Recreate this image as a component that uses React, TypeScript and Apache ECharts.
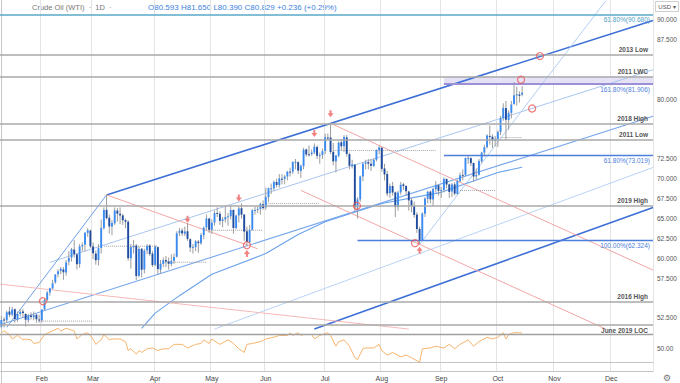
import React, { useEffect, useRef } from 'react';
import * as echarts from 'echarts';

// ---------- calendar ----------
const FIRST_DAY = [2021, 0, 8];
const LAST_DAY = [2021, 11, 22];
const HOLIDAYS = ['2021-01-18', '2021-02-15', '2021-04-02', '2021-05-31', '2021-07-05', '2021-09-06', '2021-11-25'];
const MONTH_NAMES = ['Jan', 'Feb', 'Mar', 'Apr', 'May', 'Jun', 'Jul', 'Aug', 'Sep', 'Oct', 'Nov', 'Dec'];

// ---------- daily bars [open, high, low, close] ----------
const barsJan = [
  [51.4, 52.75, 51.2, 52.24], [52.3, 52.6, 51.3, 52.25], [52.2, 53.4, 51.9, 53.21], [53.3, 53.9, 52.6, 52.91],
  [52.9, 53.9, 52.7, 53.57], [53.6, 53.7, 51.9, 52.36], [52.3, 53.3, 52.0, 52.98], [53.0, 53.6, 52.7, 53.24],
  [53.3, 53.6, 52.6, 53.13], [53.0, 53.1, 51.4, 52.27], [52.2, 53.0, 51.9, 52.77], [52.8, 53.2, 52.3, 52.61],
  [52.6, 53.3, 52.2, 52.85], [52.9, 53.0, 51.9, 52.34], [52.3, 52.9, 51.9, 52.2],
];
const barsFeb = [
  [52.2, 53.6, 51.9, 53.55], [53.6, 54.9, 53.4, 54.76], [54.8, 55.9, 54.6, 55.69], [55.7, 56.3, 55.3, 56.23],
  [56.2, 57.3, 56.1, 56.85], [57.0, 58.0, 56.8, 57.97], [58.0, 58.6, 57.6, 58.36], [58.4, 58.9, 58.0, 58.68],
  [58.6, 58.9, 57.3, 58.24], [58.2, 59.8, 57.8, 59.47], [59.6, 60.9, 59.1, 60.05], [60.1, 61.3, 59.6, 61.14],
  [61.1, 62.3, 60.1, 60.52], [60.5, 60.6, 58.6, 59.24], [59.3, 61.8, 58.8, 61.49], [61.5, 62.0, 60.9, 61.67],
  [61.7, 63.3, 60.9, 63.22], [63.2, 63.8, 62.7, 63.53], [63.5, 63.6, 61.3, 61.5],
];
const barsMar = [
  [61.5, 62.0, 59.9, 60.64], [60.6, 61.0, 59.2, 59.75], [59.8, 61.8, 59.1, 61.28], [61.3, 64.9, 60.6, 63.83],
  [63.8, 66.4, 63.6, 66.09], [66.1, 67.98, 64.9, 65.05], [65.1, 65.5, 63.1, 64.01], [64.0, 64.8, 62.9, 64.44],
  [64.4, 66.4, 64.2, 66.02], [66.0, 66.3, 64.6, 65.61], [65.6, 66.4, 64.3, 65.39], [65.4, 65.6, 64.2, 64.8],
  [64.8, 65.0, 63.8, 64.6], [64.6, 64.8, 59.7, 60.0], [60.0, 61.8, 58.7, 61.42], [61.4, 62.3, 60.6, 61.55],
  [61.6, 61.8, 57.25, 57.76], [57.8, 61.5, 57.6, 61.18], [61.2, 61.3, 57.6, 58.56], [58.6, 61.2, 58.1, 60.97],
  [61.0, 61.8, 60.5, 61.56], [61.6, 61.8, 60.3, 60.55], [60.6, 60.9, 58.9, 59.16],
];
const barsApr = [
  [59.2, 61.7, 59.0, 61.45], [61.4, 61.5, 58.0, 58.65], [58.6, 59.8, 58.1, 59.33], [59.3, 60.1, 58.9, 59.77],
  [59.8, 60.3, 58.9, 59.6], [59.6, 60.1, 58.6, 59.32], [59.3, 60.5, 59.0, 59.7], [59.7, 60.6, 59.3, 60.18],
  [60.2, 63.4, 60.1, 63.15], [63.2, 63.8, 62.8, 63.46], [63.5, 63.8, 62.8, 63.13], [63.1, 64.0, 62.8, 63.38],
  [63.4, 64.4, 62.2, 62.44], [62.4, 62.5, 60.8, 61.35], [61.4, 61.8, 60.6, 61.43], [61.4, 62.3, 60.9, 62.14],
  [62.1, 62.3, 60.7, 61.91], [61.9, 63.2, 61.7, 62.94], [62.9, 64.0, 62.4, 63.86], [63.9, 65.5, 63.5, 65.01],
  [65.0, 65.1, 63.2, 63.58],
];
const barsMay = [
  [63.6, 64.9, 63.1, 64.49], [64.5, 66.0, 64.1, 65.69], [65.7, 66.4, 65.2, 65.63], [65.6, 65.9, 64.2, 64.71],
  [64.7, 65.2, 63.9, 64.9], [64.9, 66.5, 64.5, 65.19], [65.2, 65.7, 64.1, 65.28], [65.3, 66.6, 64.9, 66.08],
  [66.1, 66.1, 63.1, 63.82], [63.8, 65.5, 63.7, 65.37], [65.4, 66.5, 64.5, 66.27], [66.3, 66.9, 65.0, 65.49],
  [65.5, 65.6, 62.2, 63.36], [63.4, 64.0, 61.56, 62.05], [62.0, 64.2, 61.9, 63.58], [63.6, 66.2, 63.5, 66.05],
  [66.0, 66.5, 65.5, 66.07], [66.1, 66.5, 65.7, 66.21], [66.2, 67.0, 65.5, 66.85], [66.8, 67.3, 66.1, 66.32],
];
const barsJun = [
  [66.4, 68.9, 66.1, 67.72], [67.7, 68.9, 67.1, 68.83], [68.8, 69.4, 68.1, 68.81], [68.8, 69.8, 68.5, 69.62],
  [69.6, 70.0, 68.9, 69.23], [69.2, 70.6, 68.9, 70.05], [70.0, 70.6, 69.3, 69.96], [70.0, 70.5, 69.3, 70.29],
  [70.3, 71.0, 69.8, 70.91], [70.9, 71.4, 70.3, 70.88], [70.9, 72.2, 70.6, 72.12], [72.1, 72.5, 71.2, 72.15],
  [72.1, 72.2, 70.6, 71.04], [71.0, 71.8, 70.1, 71.64], [71.6, 73.9, 71.2, 73.66], [73.7, 73.8, 72.8, 73.06],
  [73.1, 74.2, 72.8, 73.08], [73.1, 73.7, 72.9, 73.3], [73.3, 74.45, 73.1, 74.05], [74.0, 74.2, 72.5, 72.91],
  [72.9, 73.3, 71.9, 72.98], [73.0, 73.8, 72.5, 73.47],
];
const barsJul = [
  [73.5, 75.7, 73.1, 75.23], [75.2, 75.7, 74.9, 75.16], [75.2, 76.98, 73.1, 73.37], [73.4, 74.5, 71.7, 72.2],
  [72.2, 73.0, 70.8, 72.94], [72.9, 74.7, 72.7, 74.56], [74.6, 75.0, 73.5, 74.1], [74.1, 75.5, 73.4, 75.25],
  [75.2, 75.5, 72.8, 73.13], [73.1, 73.3, 71.2, 71.65], [71.6, 72.4, 71.3, 71.81], [71.8, 71.8, 65.9, 66.42],
  [66.4, 67.7, 65.01, 67.42], [67.4, 70.4, 67.1, 70.3], [70.3, 72.1, 69.7, 71.91], [71.9, 72.4, 71.2, 72.07],
  [72.1, 72.5, 71.2, 71.91], [71.9, 72.5, 71.0, 71.65], [71.6, 72.6, 71.5, 72.39], [72.4, 73.7, 72.2, 73.62],
  [73.6, 74.2, 73.1, 73.95],
];
const barsAug = [
  [73.9, 74.0, 70.9, 71.26], [71.3, 71.9, 69.8, 70.56], [70.6, 71.0, 67.8, 68.15], [68.2, 69.4, 67.6, 69.09],
  [69.1, 69.6, 67.9, 68.28], [68.3, 68.4, 65.2, 66.48], [66.5, 68.5, 66.0, 68.29], [68.3, 69.6, 68.0, 69.25],
  [69.3, 69.5, 68.6, 69.09], [69.1, 69.2, 67.9, 68.44], [68.4, 68.5, 66.0, 67.29], [67.3, 67.6, 65.8, 66.59],
  [66.6, 67.1, 65.1, 65.46], [65.5, 65.8, 63.2, 63.69], [63.7, 64.0, 61.74, 62.32], [62.3, 65.8, 62.2, 65.64],
  [65.6, 67.7, 65.2, 67.54], [67.5, 68.5, 66.9, 68.36], [68.4, 68.5, 66.9, 67.42], [67.4, 68.9, 66.6, 68.74],
  [68.7, 69.7, 68.3, 69.21], [69.2, 69.3, 67.9, 68.5],
];
const barsSep = [
  [68.5, 69.0, 67.6, 68.59], [68.6, 70.2, 68.3, 69.99], [70.0, 70.0, 68.8, 69.29], [69.3, 69.4, 67.6, 68.35],
  [68.4, 69.5, 67.7, 69.3], [69.3, 69.6, 67.9, 68.14], [68.1, 69.9, 68.0, 69.72], [69.7, 70.8, 69.6, 70.45],
  [70.5, 71.2, 69.8, 70.46], [70.5, 72.7, 70.3, 72.61], [72.6, 73.0, 71.9, 72.61], [72.6, 72.7, 71.6, 71.97],
  [72.0, 72.0, 69.6, 70.29], [70.3, 71.3, 69.9, 70.49], [70.5, 72.5, 70.4, 72.23], [72.2, 73.4, 72.0, 73.3],
  [73.3, 74.3, 72.8, 73.98], [74.0, 75.6, 73.8, 75.45], [75.4, 76.7, 74.3, 75.29], [75.3, 75.6, 73.9, 74.83],
  [74.8, 75.4, 74.1, 75.03],
];
const barsOct = [
  [75.0, 76.1, 74.0, 75.88], [75.9, 77.9, 75.5, 77.62], [77.6, 79.5, 77.3, 78.93], [78.9, 79.8, 74.9, 77.43],
  [77.4, 78.6, 76.2, 78.3], [78.3, 79.8, 77.6, 79.35], [79.4, 82.18, 79.3, 80.52], [80.5, 81.6, 79.2, 80.64],
  [80.6, 81.0, 79.6, 80.44], [80.593, 81.65, 80.39, 80.829],
];

// ---------- RSI (14) readings [bar index, value] ----------
const rsiPoints = [
  [0, 72.6], [1, 75.2], [3, 70], [4, 63.5], [6, 68.7], [8, 62.3], [9, 63.5], [11, 62.3], [12, 57.1], [14, 58.4],
  [16, 70], [19, 75.2], [21, 79], [22, 75.2], [24, 79], [27, 75.2], [28, 63.5], [30, 70], [32, 72.6], [34, 63.5],
  [35, 55.8], [37, 62.3], [38, 70], [40, 62.3], [41, 63.5], [44, 63.5], [46, 59.7], [47, 46.8], [48, 49.4],
  [50, 41.6], [51, 46.8], [52, 44.2], [54, 49.4], [56, 50.6], [58, 46.8], [60, 49.4], [62, 49.4], [64, 55.8],
  [67, 55.8], [69, 50.6], [72, 55.8], [74, 57.1], [75, 62.3], [77, 57.1], [78, 63.5], [81, 55.8], [84, 62.3],
  [86, 57.1], [88, 49.4], [90, 44.2], [91, 55.8], [93, 57.1], [96, 59.7], [98, 63.5], [101, 66.1], [103, 68.7],
  [106, 68.7], [107, 72.6], [108, 68.7], [110, 72.6], [111, 68.7], [112, 70], [115, 70], [116, 63.5], [118, 68.7],
  [121, 72.6], [122, 68.7], [124, 53.2], [125, 59.7], [127, 62.3], [129, 53.2], [131, 36.5], [132, 33.9],
  [134, 49.4], [135, 50.6], [138, 50.6], [140, 55.8], [141, 46.8], [143, 40.3], [145, 44.2], [148, 37.7],
  [150, 40.3], [152, 36.5], [155, 30], [156, 49.4], [159, 50.6], [161, 53.2], [164, 50.6], [166, 55.8],
  [168, 49.4], [170, 55.8], [173, 62.3], [175, 53.2], [177, 59.7], [180, 66.1], [182, 63.5], [184, 66.1],
  [186, 72.6], [187, 63.5], [188, 70], [190, 72.6], [192, 72.6], [193, 72.25],
];

// ---------- moving average [bar index, price] ----------
const maPoints = [
  [52, 51.2], [57, 53.1], [66, 55.3], [78, 58.0], [98, 60.6], [110, 63.0], [120, 64.6], [141, 66.9],
  [163, 68.3], [184, 70.8], [193, 71.455],
];

// ---------- drawn trend lines [[barIndex, price], [barIndex, price]] ----------
const channelUpper = [[39, 67.98], [241.5, 89.93]];
const channelLower = [[-0.5, 51.64], [241.5, 77.87]];
const channelMid = [[18, 59.5], [241.5, 83.73]];
const handleLine = [[2, 51.3], [39, 67.98]];
const lowerTine = [[116, 51.1], [241.5, 66.4]];
const slopeLight = [[79, 51.1], [241.5, 71.43]];
const slopeSteep = [[155, 61.74], [224, 92.4]];
const redLine1 = [[-0.5, 56.75], [151, 51.1]];
const redLine2 = [[39, 67.98], [95, 61.2]];
const redLine3 = [[111, 68.54], [224, 51.1]];
const redLine4 = [[122, 76.98], [241.5, 58.52]];

// dotted reference segments [startIndex, endIndex, price]
const dottedSegments = [
  [14, 34, 52.1], [38, 58, 61.52], [60, 76, 59.51], [77, 97, 63.53], [98, 118, 66.91],
  [123, 161, 73.56], [170, 183, 68.54], [185, 193, 75.19],
];

// markers [barIndex, price]
const circleMarks = [[15.4, 54.6], [91, 61.65], [131.8, 66.6], [153.3, 61.9], [192.6, 82.47], [196.7, 78.85], [199.6, 85.45]];
const arrowDownMarks = [[122, 78.2], [116, 75.7], [69, 64.9], [88, 67.6]];
const arrowUpMarks = [[91, 60.6], [155, 61.0]];

// ---------- horizontal levels ----------
const levelValues = [85.61, 82.84, 76.875, 74.913, 66.575, 54.48, 51.675];
const levelNames = ['2013 Low', '2011 LWC', '2018 High', '2011 Low', '2019 High', '2016 High', 'June 2019 LOC'];
const levelTags = ['85.610', '82.840', '76.875', '74.913', '66.575', '54.480', '51.675'];
const fibValues = [90.68, 81.906, 73.019, 62.324];
const fibNames = ['61.80%(90.680)', '161.80%(81.906)', '61.80%(73.019)', '100.00%(62.324)'];
const fibStarts = [-0.5, 164, 164, 132];
const lastPrice = 80.829;
const maLast = 71.455;
const rsiLast = 72.25;

const HEADER_NAME = 'Crude Oil (WTI)  ·  1D  ·';
const HEADER_OHLC = 'O80.593 H81.650 L80.390 C80.829 +0.236 (+0.29%)';

const FONT = 'Liberation Sans, Arial, sans-serif';
const UP = '#3a8cf2';
const DOWN = '#1f4c9f';

function buildDays() {
  const out: string[] = [];
  const d = new Date(Date.UTC(FIRST_DAY[0], FIRST_DAY[1], FIRST_DAY[2]));
  const end = Date.UTC(LAST_DAY[0], LAST_DAY[1], LAST_DAY[2]);
  while (d.getTime() <= end) {
    const wd = d.getUTCDay();
    const s = d.toISOString().slice(0, 10);
    if (wd !== 0 && wd !== 6 && HOLIDAYS.indexOf(s) < 0) out.push(s);
    d.setUTCDate(d.getUTCDate() + 1);
  }
  return out;
}

export default function App() {
  const ref = useRef<HTMLDivElement>(null);
  useEffect(() => {
    if (!ref.current) return;
    const chart = echarts.init(ref.current, null, { renderer: 'svg' });
    const days = buildDays();
    const N = days.length;
    const bars = [...barsJan, ...barsFeb, ...barsMar, ...barsApr, ...barsMay, ...barsJun, ...barsJul, ...barsAug, ...barsSep, ...barsOct];
    const candleData = bars.map((b, i) => [i, b[0], b[1], b[2], b[3]]);
    const isMonthStart = (i: number) => i > 0 && days[i].slice(5, 7) !== days[i - 1].slice(5, 7);
    const hiddenTicks = [50, 55, 75, 77.5, 82.5, 85, 92.5];

    const lineSeries = (name: string, data: number[][], color: string, width: number, z = 2, type = 'solid') => ({
      name, type: 'line', xAxisIndex: 1, yAxisIndex: 1, data, showSymbol: false, silent: true, z,
      lineStyle: { color, width, type }, clip: true,
    });

    const levelMarks: any[] = [];
    levelValues.forEach((v, i) => {
      levelMarks.push({
        yAxis: v,
        lineStyle: { color: '#a9a9a9', width: 1.6, type: 'solid' },
        label: {
          show: true, position: i === 6 ? 'insideEndBottom' : 'insideEndTop', formatter: levelNames[i],
          color: '#555', fontSize: 6.5, fontWeight: 'bold', fontFamily: FONT, distance: [5, 2],
        },
      });
    });
    fibValues.forEach((v, i) => {
      const isTop = i === 0;
      const color = isTop ? '#58a9c8' : i === 1 ? '#9b90d6' : '#4b7fd9';
      const width = isTop ? 1.6 : i === 1 ? 2 : 1.3;
      levelMarks.push([
        {
          coord: [fibStarts[i], v],
          lineStyle: { color, width, type: 'solid' },
          label: {
            show: true, position: 'insideEndBottom', formatter: fibNames[i],
            color: isTop ? '#4fa0c6' : '#4f80da', fontSize: 6.5, fontFamily: FONT, distance: [3, 2],
          },
        },
        { coord: [N - 0.5, v] },
      ]);
    });
    const tagDark = [false, false, true, true, true, true, false];
    levelValues.forEach((v, i) => {
      levelMarks.push({
        yAxis: v,
        lineStyle: { opacity: 0 },
        label: {
          show: true, position: 'end', formatter: levelTags[i], distance: 1,
          backgroundColor: tagDark[i] ? '#8c8c8c' : (i === 1 || i === 6 ? '#d4d4d4' : '#c4c4c4'),
          color: tagDark[i] ? '#fff' : '#222', fontSize: 7, fontFamily: FONT, padding: [2, 2, 1, 2],
        },
      });
    });
    levelMarks.push({
      yAxis: lastPrice, lineStyle: { opacity: 0 },
      label: { show: true, position: 'end', formatter: '80.829', distance: 1, backgroundColor: '#2f73ee', color: '#fff', fontSize: 7, fontFamily: FONT, padding: [2, 2, 1, 2] },
    });
    levelMarks.push({
      yAxis: maLast, lineStyle: { opacity: 0 },
      label: { show: true, position: 'end', formatter: '71.455', distance: 1, backgroundColor: '#2f9af3', color: '#fff', fontSize: 7, fontFamily: FONT, padding: [2, 2, 1, 2] },
    });

    const option: any = {
      animation: false,
      textStyle: { fontFamily: FONT },
      grid: [
        { left: 0, right: 27, top: 0, height: 371 },
        { left: 0, right: 27, top: -0.925, height: 338.725 },
        { left: 0, right: 27, top: 313.75, height: 77.5 },
      ],
      xAxis: [
        {
          type: 'category', gridIndex: 0, data: days, position: 'bottom',
          axisLine: { show: true, lineStyle: { color: '#c4c4c4' } },
          axisTick: { show: false },
          axisLabel: {
            interval: (i: number) => isMonthStart(i),
            formatter: (v: string) => MONTH_NAMES[parseInt(v.slice(5, 7), 10) - 1],
            color: '#444', fontSize: 7, margin: 4, fontFamily: FONT,
          },
          splitLine: { show: true, interval: (i: number) => isMonthStart(i), lineStyle: { color: '#e4e4e4', width: 1 } },
        },
        { type: 'value', gridIndex: 1, min: -0.5, max: N - 0.5, show: false },
        { type: 'value', gridIndex: 2, min: -0.5, max: N - 0.5, show: false },
      ],
      yAxis: [
        { type: 'value', gridIndex: 0, min: 0, max: 1, show: false },
        {
          type: 'value', gridIndex: 1, min: 50, max: 92.5, interval: 2.5, position: 'right',
          axisLine: { show: true, lineStyle: { color: '#c8c8c8' } }, axisTick: { show: false },
          splitLine: { show: false },
          axisLabel: {
            margin: 4, fontSize: 6.5, color: '#555', fontFamily: FONT,
            formatter: (v: number) => (hiddenTicks.some((h) => Math.abs(h - v) < 1e-6) ? '' : v.toFixed(3)),
          },
        },
        {
          type: 'value', gridIndex: 2, min: 0, max: 100, interval: 50, position: 'right',
          axisLine: { show: true, lineStyle: { color: '#c8c8c8' } }, axisTick: { show: false },
          splitLine: { show: false },
          axisLabel: {
            margin: 4, fontSize: 6.5, color: '#555', fontFamily: FONT,
            formatter: (v: number) => (v === 50 ? '50.00' : ''),
          },
        },
      ],
      series: [
        {
          name: 'levels', type: 'line', xAxisIndex: 1, yAxisIndex: 1, data: [], z: 1, silent: true,
          markLine: { silent: true, symbol: ['none', 'none'], animation: false, data: levelMarks },
          markArea: {
            silent: true, itemStyle: { color: '#e6e2f5' },
            data: [[{ coord: [fibStarts[1], levelValues[1]] }, { coord: [N - 0.5, fibValues[1]] }]],
          },
        },
        lineSeries('upper', channelUpper, '#3d70d6', 1.6),
        lineSeries('lowerTine', lowerTine, '#3d70d6', 1.6),
        lineSeries('lower', channelLower, '#79a8ec', 1.1),
        lineSeries('mid', channelMid, '#a9c6f2', 1),
        lineSeries('handle', handleLine, '#6f9fe8', 1),
        lineSeries('slopeLight', slopeLight, '#bad3f6', 1),
        lineSeries('slopeSteep', slopeSteep, '#b3cdf5', 1),
        lineSeries('ma', maPoints, '#6aa2ec', 1.1),
        lineSeries('red1', redLine1, '#f6b9b9', 1),
        lineSeries('red2', redLine2, '#f3a6a6', 1),
        lineSeries('red3', redLine3, '#f3a6a6', 1),
        lineSeries('red4', redLine4, '#f3a6a6', 1),
        ...dottedSegments.map((s, i) => lineSeries('dot' + i, [[s[0], s[2]], [s[1], s[2]]], '#a0a0a0', 1, 2, 'dotted')),
        {
          name: 'WTI', type: 'custom', xAxisIndex: 1, yAxisIndex: 1, data: candleData, z: 4, clip: true,
          encode: { x: 0, y: [1, 2, 3, 4] },
          renderItem: (params: any, api: any) => {
            const x = api.value(0);
            const o = api.value(1), h = api.value(2), l = api.value(3), c = api.value(4);
            const pH = api.coord([x, h]);
            const pL = api.coord([x, l]);
            const pO = api.coord([x, o]);
            const pC = api.coord([x, c]);
            const cx = pH[0];
            const top = Math.min(pO[1], pC[1]);
            const ht = Math.max(1, Math.abs(pO[1] - pC[1]));
            return {
              type: 'group',
              children: [
                { type: 'line', shape: { x1: cx, y1: pH[1], x2: cx, y2: pL[1] }, style: { stroke: '#9c9c9c', lineWidth: 1 } },
                { type: 'rect', shape: { x: cx - 0.95, y: top, width: 1.9, height: ht }, style: { fill: c >= o ? UP : DOWN } },
              ],
            };
          },
        },
        {
          name: 'circles', type: 'scatter', xAxisIndex: 1, yAxisIndex: 1, data: circleMarks, z: 6, silent: true,
          symbol: 'circle', symbolSize: 7,
          itemStyle: { color: 'rgba(255,255,255,0)', borderColor: '#ee5555', borderWidth: 1.2 },
        },
        {
          name: 'arrowsDown', type: 'scatter', xAxisIndex: 1, yAxisIndex: 1, data: arrowDownMarks, z: 6, silent: true,
          symbol: 'path://M-1,0 L1,0 L1,3 L3,3 L0,7 L-3,3 L-1,3 Z', symbolSize: [6, 7],
          itemStyle: { color: '#f06262' },
        },
        {
          name: 'arrowsUp', type: 'scatter', xAxisIndex: 1, yAxisIndex: 1, data: arrowUpMarks, z: 6, silent: true,
          symbol: 'path://M-1,0 L1,0 L1,3 L3,3 L0,7 L-3,3 L-1,3 Z', symbolSize: [6, 7], symbolRotate: 180,
          itemStyle: { color: '#f06262' },
        },
        {
          name: 'RSI', type: 'line', xAxisIndex: 2, yAxisIndex: 2, data: rsiPoints, showSymbol: false, silent: true, z: 3,
          lineStyle: { color: '#f7b46e', width: 1 },
          markLine: {
            silent: true, symbol: ['none', 'none'], animation: false,
            data: [
              { yAxis: 70, lineStyle: { color: '#a0a0a0', width: 1.4, type: 'solid' }, label: { show: false } },
              { yAxis: 30, lineStyle: { color: '#c4c4c4', width: 1, type: 'solid' }, label: { show: false } },
              {
                yAxis: rsiLast, lineStyle: { opacity: 0 },
                label: { show: true, position: 'end', formatter: '72.25', distance: 1, backgroundColor: '#f0922e', color: '#fff', fontSize: 7, fontFamily: FONT, padding: [2, 4, 1, 3] },
              },
            ],
          },
        },
      ],
      graphic: [
        { type: 'text', x: 32, y: 7, style: { text: HEADER_NAME, fill: '#777', font: '7.5px ' + FONT, verticalAlign: 'middle', textVerticalAlign: 'middle' } },
        { type: 'text', x: 148, y: 7, style: { text: HEADER_OHLC, fill: '#3d7fe2', font: '8px ' + FONT, verticalAlign: 'middle', textVerticalAlign: 'middle' } },
        { type: 'rect', shape: { x: 655.5, y: 1.5, width: 23, height: 10 }, style: { fill: '#fff', stroke: '#cfcfcf', lineWidth: 1 } },
        { type: 'text', x: 667, y: 7, style: { text: 'USD ▾', fill: '#555', font: '6px ' + FONT, align: 'center', textAlign: 'center', verticalAlign: 'middle', textVerticalAlign: 'middle' } },
        { type: 'text', x: 667, y: 378, style: { text: '⚙', fill: '#777', font: '9px DejaVu Sans', align: 'center', textAlign: 'center', verticalAlign: 'middle', textVerticalAlign: 'middle' } },
      ],
    };
    chart.setOption(option);
    return () => chart.dispose();
  }, []);
  return <div ref={ref} style={{ position: 'fixed', left: 0, top: 0, width: 680, height: 383, background: '#fff' }} />;
}
